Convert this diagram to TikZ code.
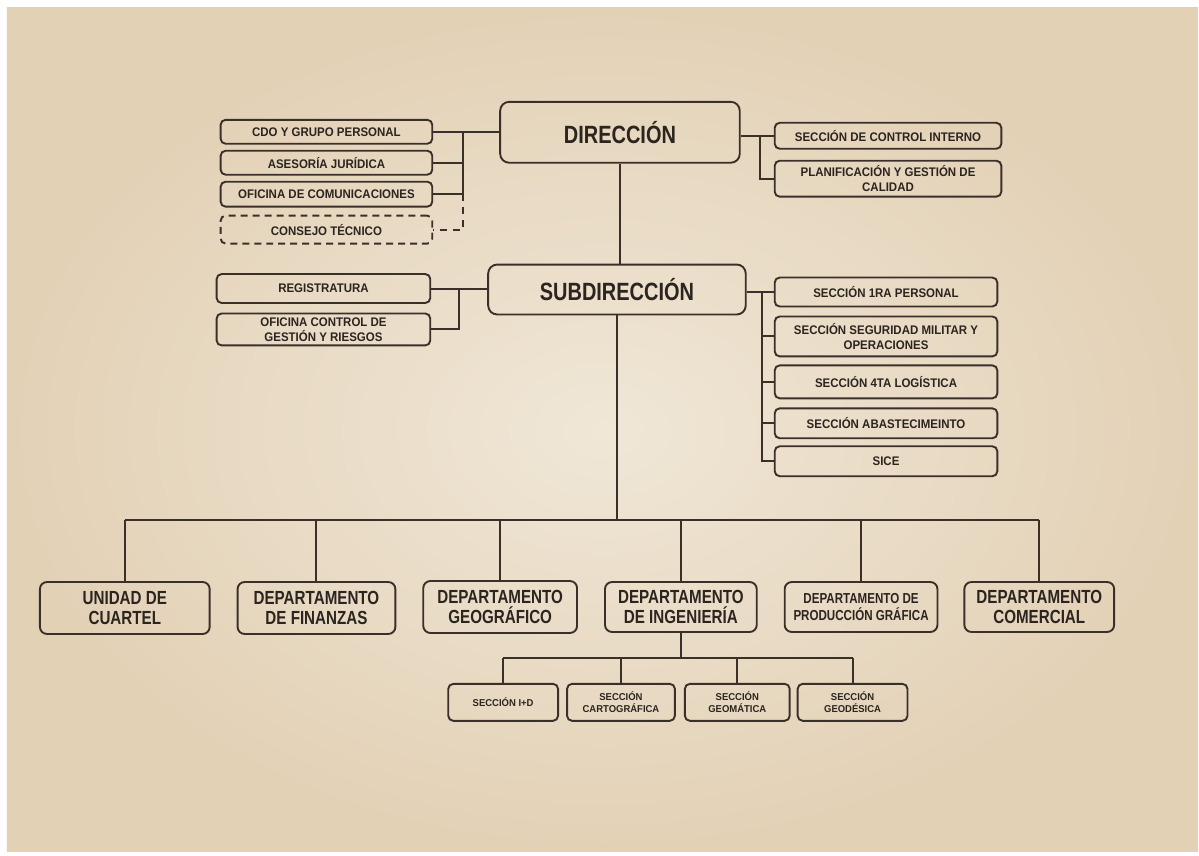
\documentclass[tikz,border=0pt]{standalone}
\usepackage{fontspec}
\setmainfont{Liberation Sans}
\newfontfamily\fBig{Liberation Sans}[FakeStretch=0.8]
\newfontfamily\fSm{Liberation Sans}[FakeStretch=0.92]
\newfontfamily\fSub{Liberation Sans}[FakeStretch=0.95]
\definecolor{ink}{HTML}{3A3029}
\definecolor{txt}{HTML}{2B241F}
\definecolor{paperin}{HTML}{F0E7D7}
\definecolor{paperout}{HTML}{E3D1B6}
\begin{document}
\begin{tikzpicture}[x=1pt,y=-1pt,
  line width=2pt, draw=ink,
  every path/.style={draw=ink},
  box/.style={draw=ink, line width=1.9pt, rounded corners=5pt, inner sep=0pt, align=center, text=txt},
  sbox/.style={box, font=\fSm\bfseries\fontsize{12.5}{15}\selectfont},
  bigbox/.style={box, rounded corners=9pt, font=\fBig\bfseries\fontsize{25}{28}\selectfont},
  dbox/.style={box, rounded corners=7pt, font=\fBig\bfseries\fontsize{19}{20}\selectfont},
  pbox/.style={box, rounded corners=7pt, font=\fBig\bfseries\fontsize{14.5}{17}\selectfont},
  ssbox/.style={box, font=\fSub\bfseries\fontsize{10}{12.5}\selectfont},
  conn/.style={draw=ink, line width=2pt},
  dashbox/.style={dash pattern=on 7pt off 5pt}
]
\useasboundingbox (0,0) rectangle (1199,855);
\fill[white] (0,0) rectangle (1199,855);
\shade[inner color=paperin, outer color=paperout, draw=none] (6,7) rectangle (1199,852);

% Dirección level
\node[bigbox, minimum width=240pt, minimum height=61pt] (dir) at (620,131.5) {DIRECCIÓN};
\node[sbox, minimum width=212pt, minimum height=24pt] (cdo) at (326,131) {CDO Y GRUPO PERSONAL};
\node[sbox, minimum width=212pt, minimum height=24pt] (ase) at (326,162) {ASESORÍA JURÍDICA};
\node[sbox, minimum width=212pt, minimum height=25pt] (ofc) at (326,193.5) {OFICINA DE COMUNICACIONES};
\node[sbox, dashbox, minimum width=212pt, minimum height=28pt] (con) at (326,229) {CONSEJO TÉCNICO};
\node[sbox, minimum width=227pt, minimum height=26pt] (sci) at (888.5,135) {SECCIÓN DE CONTROL INTERNO};
\node[sbox, minimum width=227pt, minimum height=36pt] (pla) at (888.5,178) {PLANIFICACIÓN Y GESTIÓN DE\\CALIDAD};

% Subdirección level
\node[bigbox, minimum width=258pt, minimum height=50pt] (sub) at (617,289) {SUBDIRECCIÓN};
\node[sbox, minimum width=214pt, minimum height=29pt] (reg) at (323,288) {REGISTRATURA};
\node[sbox, minimum width=214pt, minimum height=32pt] (ocg) at (323,329) {OFICINA CONTROL DE\\GESTIÓN Y RIESGOS};
\node[sbox, minimum width=223pt, minimum height=29pt] (s1) at (886.5,291.5) {SECCIÓN 1RA PERSONAL};
\node[sbox, minimum width=223pt, minimum height=40pt] (ssm) at (886.5,336) {SECCIÓN SEGURIDAD MILITAR Y\\OPERACIONES};
\node[sbox, minimum width=223pt, minimum height=33pt] (s4) at (886.5,381.5) {SECCIÓN 4TA LOGÍSTICA};
\node[sbox, minimum width=223pt, minimum height=30pt] (sab) at (886.5,423) {SECCIÓN ABASTECIMEINTO};
\node[sbox, minimum width=223pt, minimum height=30pt] (sice) at (886.5,461) {SICE};

% Departments
\node[dbox, minimum width=170pt, minimum height=52pt] (uc) at (124,608) {UNIDAD DE\\CUARTEL};
\node[dbox, minimum width=158pt, minimum height=52pt] (fin) at (316,608) {DEPARTAMENTO\\DE FINANZAS};
\node[dbox, minimum width=154pt, minimum height=52pt] (geo) at (500,607) {DEPARTAMENTO\\GEOGRÁFICO};
\node[dbox, minimum width=152pt, minimum height=50pt] (ing) at (681,607) {DEPARTAMENTO\\DE INGENIERÍA};
\node[pbox, minimum width=153pt, minimum height=50pt] (pro) at (861.5,607) {DEPARTAMENTO DE\\PRODUCCIÓN GRÁFICA};
\node[dbox, minimum width=150pt, minimum height=50pt] (com) at (1040,607) {DEPARTAMENTO\\COMERCIAL};

% Engineering sections
\node[ssbox, minimum width=110pt, minimum height=37pt] (sid) at (503,702.5) {SECCIÓN I+D};
\node[ssbox, minimum width=108pt, minimum height=37pt] (sca) at (621,702.5) {SECCIÓN\\CARTOGRÁFICA};
\node[ssbox, minimum width=105pt, minimum height=37pt] (sgm) at (737.5,702.5) {SECCIÓN\\GEOMÁTICA};
\node[ssbox, minimum width=110pt, minimum height=37pt] (sgd) at (853,702.5) {SECCIÓN\\GEODÉSICA};

% bus coordinates
\coordinate (lb1) at (463,0);
\coordinate (rb1) at (760,0);
\coordinate (lb2) at (459,0);
\coordinate (rb2) at (762,0);
\coordinate (mbus) at (617,520);
\coordinate (ibus) at (681,658);

% Dirección connectors
\draw[conn] (dir.west |- cdo.east) -- (cdo.east);
\draw[conn] (lb1 |- cdo.east) -- (lb1 |- ofc.east);
\draw[conn] (ase.east) -- (lb1 |- ase.east);
\draw[conn] (ofc.east) -- (lb1 |- ofc.east);
\draw[conn, dash pattern=on 7pt off 6pt] (lb1 |- ofc.east) -- (lb1 |- con.east) -- (con.east);
\draw[conn] (dir.east |- sci.west) -- (sci.west);
\draw[conn] (rb1 |- sci.west) |- (pla.west);
\draw[conn] (dir.south) -- (dir.south |- sub.north);

% Subdirección connectors
\draw[conn] (sub.west |- reg.east) -- (reg.east);
\draw[conn] (lb2 |- reg.east) |- (ocg.east);
\draw[conn] (sub.east |- s1.west) -- (s1.west);
\draw[conn] (rb2 |- s1.west) |- (sice.west);
\draw[conn] (rb2 |- ssm.west) -- (ssm.west);
\draw[conn] (rb2 |- s4.west) -- (s4.west);
\draw[conn] (rb2 |- sab.west) -- (sab.west);

% main bus
\draw[conn] (sub.south) -- (mbus);
\draw[conn] (uc.north |- mbus) -- (com.north |- mbus);
\foreach \n in {uc,fin,geo,ing,pro,com}{
  \draw[conn] (\n.north |- mbus) -- (\n.north);
}

% engineering bus
\draw[conn] (ing.south) -- (ibus);
\draw[conn] (sid.north |- ibus) -- (sgd.north |- ibus);
\foreach \n in {sid,sca,sgm,sgd}{
  \draw[conn] (\n.north |- ibus) -- (\n.north);
}
\end{tikzpicture}
\end{document}
